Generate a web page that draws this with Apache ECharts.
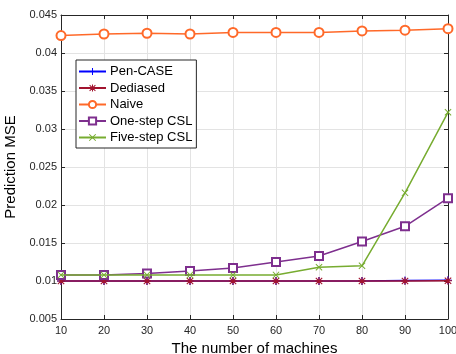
<!DOCTYPE html>
<html>
<head>
<meta charset="utf-8">
<script src="https://cdn.jsdelivr.net/npm/echarts@6/dist/echarts.min.js"></script>
<style>html,body{margin:0;padding:0;background:#fff;}#c{width:456px;height:354px;}</style>
</head>
<body>
<div id="c"></div>
<script>
const machines = [10, 20, 30, 40, 50, 60, 70, 80, 90, 100];
const penCase = [0.0100, 0.0100, 0.0100, 0.0100, 0.0100, 0.0100, 0.0100, 0.0100, 0.01005, 0.0101];
const dediased = [0.0100, 0.0100, 0.0100, 0.0100, 0.0100, 0.0100, 0.0100, 0.0100, 0.0100, 0.01003];
const naive = [0.0423, 0.0425, 0.0426, 0.0425, 0.0427, 0.0427, 0.0427, 0.0429, 0.0430, 0.0432];
const oneStep = [0.0108, 0.0108, 0.0110, 0.0113, 0.0117, 0.0125, 0.0133, 0.0152, 0.0172, 0.0209];
const fiveStep = [0.0108, 0.0108, 0.0108, 0.0108, 0.0108, 0.0108, 0.0118, 0.0120, 0.0216, 0.0322];
const seriesNames = ['Pen-CASE', 'Dediased', 'Naive', 'One-step CSL', 'Five-step CSL'];
const yTicks = [0.005, 0.01, 0.015, 0.02, 0.025, 0.03, 0.035, 0.04, 0.045];

const plusPath = 'path://M4.3,0H5.7V4.3H10V5.7H5.7V10H4.3V5.7H0V4.3H4.3Z';
const xPath = 'path://M1,0L5,4L9,0L10,1L6,5L10,9L9,10L5,6L1,10L0,9L4,5L0,1Z';
const starPath = 'path://M4.3,0H5.7V4.3H10V5.7H5.7V10H4.3V5.7H0V4.3H4.3Z M1.5,0.5L5,4L8.5,0.5L9.5,1.5L6,5L9.5,8.5L8.5,9.5L5,6L1.5,9.5L0.5,8.5L4,5L0.5,1.5Z';

function pts(arr){ return machines.map((m,i)=>[m, arr[i]]); }

const colors = ['#0000FF', '#A2142F', '#FF6929', '#7E2F8E', '#77AC30'];
const datas = [penCase, dediased, naive, oneStep, fiveStep];
const symbols = [plusPath, starPath, 'emptyCircle', 'emptyRect', xPath];
const sizes = [8, 8, 9, 8, 7];

const series = seriesNames.map((n, i) => ({
  name: n,
  type: 'line',
  data: pts(datas[i]),
  symbol: symbols[i],
  symbolSize: sizes[i],
  showAllSymbol: true,
  lineStyle: { color: colors[i], width: 1.5 },
  itemStyle: { color: colors[i], borderColor: colors[i], borderWidth: (i === 2 || i === 3) ? 1.5 : 0 },
  emphasis: { disabled: true },
  animation: false,
  z: 2 + i
}));

const chart = echarts.init(document.getElementById('c'), null, { renderer: 'canvas' });
const axisColor = '#262626';
const font = 'Liberation Sans, Arial, Helvetica, sans-serif';
chart.setOption({
  animation: false,
  backgroundColor: '#fff',
  grid: { left: 61, right: 8, top: 15, bottom: 35, containLabel: false, outerBoundsMode: 'none' },
  legend: {
    data: seriesNames,
    orient: 'vertical',
    left: 76, top: 60,
    itemWidth: 27, itemHeight: 9, itemGap: 3.5,
    backgroundColor: '#fff',
    borderColor: axisColor, borderWidth: 1, borderRadius: 0,
    padding: [5, 4, 4, 2],
    textStyle: { fontFamily: font, fontSize: 13, lineHeight: 13, color: '#000', padding: [0, 0, 0, -1] },
    selectedMode: false
  },
  xAxis: [{
    type: 'value', min: 10, max: 100, interval: 10,
    name: 'The number of machines', nameLocation: 'middle', nameGap: 21,
    nameTextStyle: { fontFamily: font, fontSize: 15, color: '#000' },
    axisLine: { show: true, onZero: false, lineStyle: { color: axisColor, width: 1 } },
    axisTick: { show: true, inside: true, length: 4, lineStyle: { color: axisColor } },
    axisLabel: { fontFamily: font, fontSize: 11, color: axisColor, margin: 6 },
    splitLine: { show: true, lineStyle: { color: '#e3e3e3', width: 1 } }
  }, {
    type: 'value', min: 10, max: 100, interval: 10, position: 'top',
    axisLine: { show: true, onZero: false, lineStyle: { color: axisColor, width: 1 } },
    axisTick: { show: true, inside: true, length: 4, lineStyle: { color: axisColor } },
    axisLabel: { show: false }, splitLine: { show: false }
  }],
  yAxis: [{
    type: 'value', min: 0.005, max: 0.045, interval: 0.005,
    name: 'Prediction MSE', nameLocation: 'middle', nameGap: 39,
    nameTextStyle: { fontFamily: font, fontSize: 15, color: '#000' },
    axisLine: { show: true, onZero: false, lineStyle: { color: axisColor, width: 1 } },
    axisTick: { show: true, inside: true, length: 4, lineStyle: { color: axisColor } },
    axisLabel: { fontFamily: font, fontSize: 11, color: axisColor, margin: 4,
      formatter: v => String(+v.toFixed(3)) },
    splitLine: { show: true, lineStyle: { color: '#e3e3e3', width: 1 } }
  }, {
    type: 'value', min: 0.005, max: 0.045, interval: 0.005, position: 'right',
    axisLine: { show: true, onZero: false, lineStyle: { color: axisColor, width: 1 } },
    axisTick: { show: true, inside: true, length: 4, lineStyle: { color: axisColor } },
    axisLabel: { show: false }, splitLine: { show: false }
  }],
  series: series
});
</script>
</body>
</html>
